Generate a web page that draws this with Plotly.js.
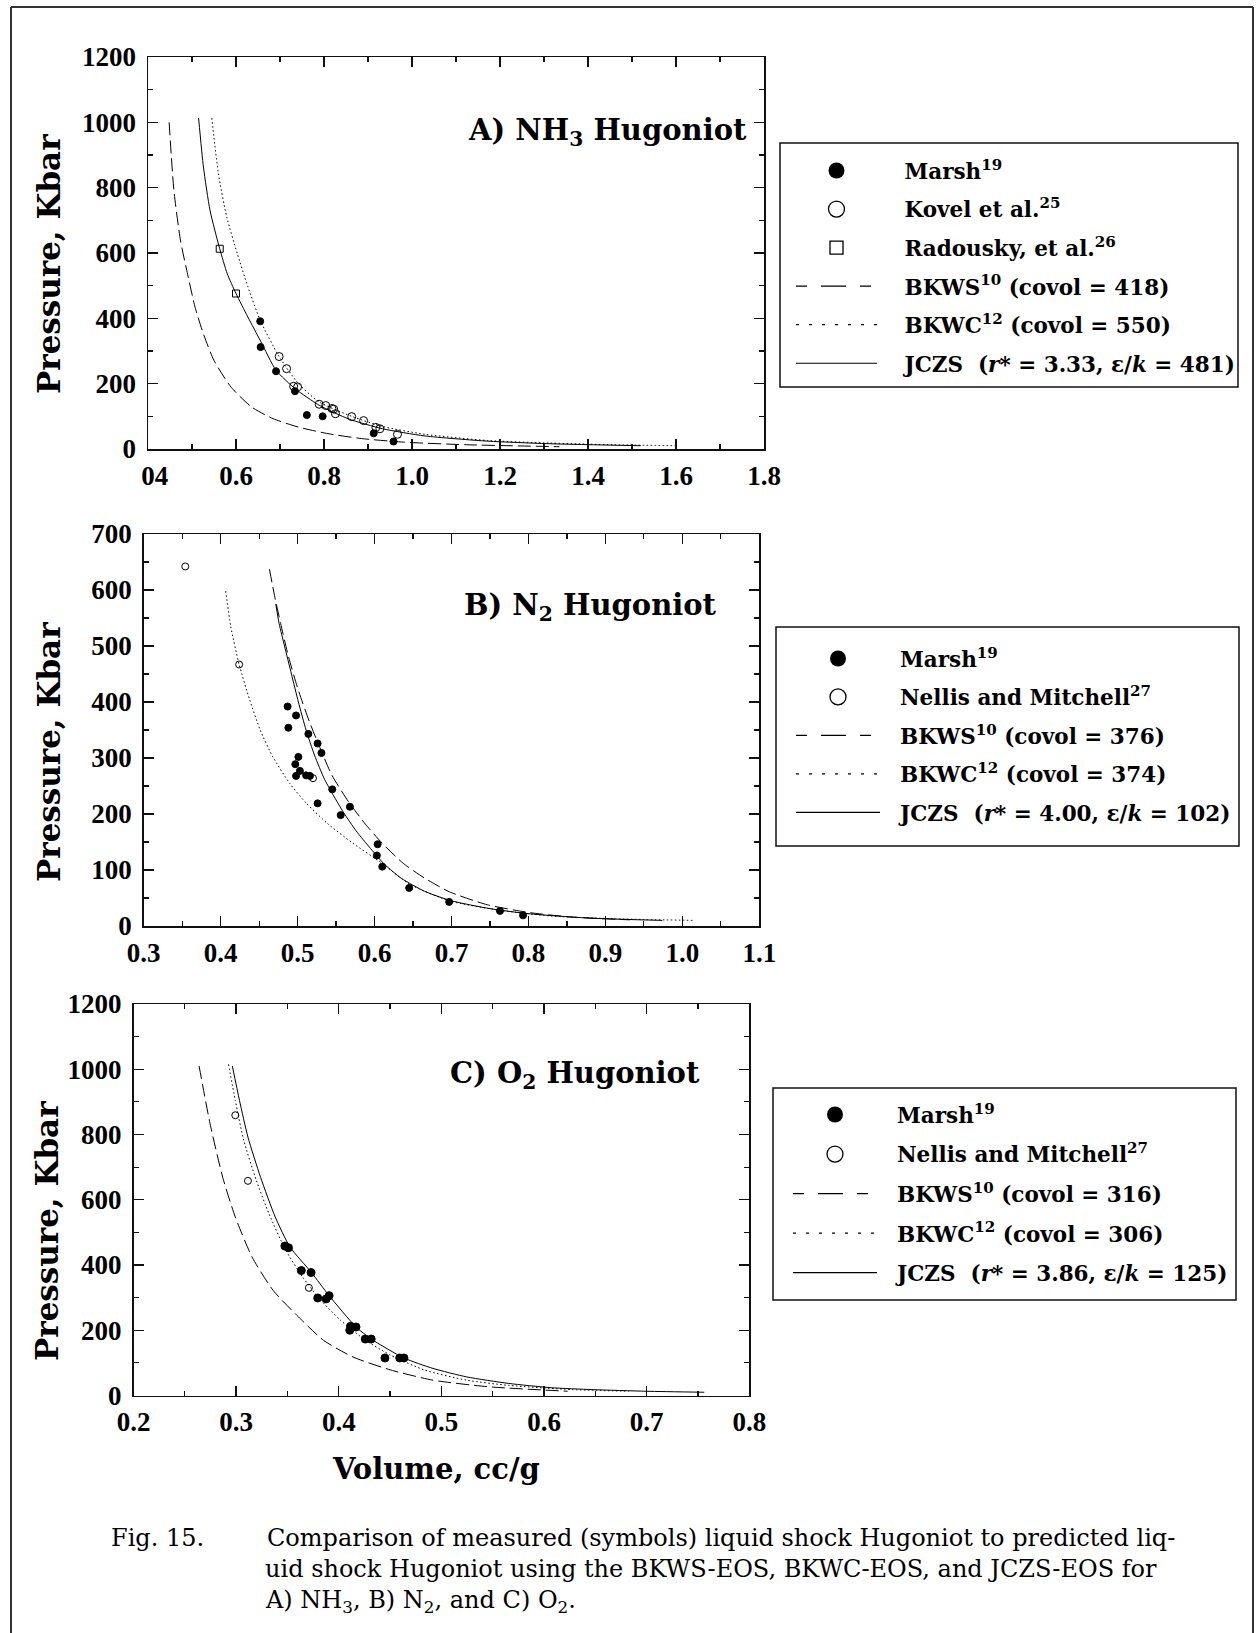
<!DOCTYPE html>
<html>
<head>
<meta charset="utf-8">
<script src="https://cdn.plot.ly/plotly-3.0.1.min.js"></script>
<style>
html,body{margin:0;padding:0;background:#fff;}
#chart{width:1257px;height:1633px;}
</style>
</head>
<body>
<div id="chart"></div>
<script>
// ---------- Panel A : NH3 ----------
const a_marsh_v = [0.655,0.656,0.691,0.734,0.761,0.797,0.913,0.958];
const a_marsh_p = [391,312,238,177,104,100,48,23];
const a_kovel_v = [0.698,0.715,0.731,0.740,0.789,0.804,0.818,0.822,0.826,0.863,0.890,0.918,0.927,0.967];
const a_kovel_p = [283,246,192,190,137,133,124,122,108,99,87,66,62,45];
const a_rad_v = [0.563,0.600];
const a_rad_p = [613,476];
const a_bkws_v = [0.448,0.459,0.474,0.490,0.507,0.526,0.550,0.589,0.636,0.684,0.742,0.809,0.885,0.981,1.124,1.335];
const a_bkws_p = [1000,790,637,535,434,352,271,189,128,93,67,47,32,21,13,7];
const a_bkwc_v = [0.545,0.560,0.579,0.603,0.627,0.655,0.698,0.742,0.789,0.863,0.933,1.029,1.172,1.316,1.459,1.600];
const a_bkwc_p = [1013,843,710,598,497,394,283,200,144,100,69,45,26,18,13,10];
const a_jczs_v = [0.515,0.526,0.541,0.563,0.580,0.600,0.627,0.656,0.691,0.734,0.789,0.856,0.933,1.029,1.172,1.316,1.520];
const a_jczs_p = [1013,863,730,613,537,476,404,330,241,185,134,92,62,40,24,16,10];

// ---------- Panel B : N2 ----------
const b_marsh_v = [0.487,0.488,0.498,0.514,0.526,0.531,0.501,0.497,0.503,0.498,0.511,0.516,0.545,0.526,0.568,0.556,0.604,0.603,0.610,0.645,0.697,0.763,0.793];
const b_marsh_p = [392,354,376,343,326,309,302,289,277,268,269,268,244,219,213,198,146,126,106,68,43,27,19];
const b_nellis_v = [0.354,0.424,0.520];
const b_nellis_p = [642,467,264];
const b_bkws_v = [0.4634,0.4700,0.4780,0.4880,0.5000,0.5150,0.5279,0.5443,0.5661,0.588,0.6098,0.6372,0.6645,0.6973,0.7464,0.8011,0.8557,0.932];
const b_bkws_p = [637,590,540,482,425,366,322,270,222,182,148,112,86,61,38,24,16,11];
const b_bkwc_v = [0.4066,0.4131,0.424,0.4377,0.4514,0.4678,0.4896,0.5115,0.5388,0.5716,0.6098,0.645,0.697,0.763,0.828,0.91,1.014];
const b_bkwc_p = [598,535,467,404,350,302,255,219,183,148,112,75,45,28,18,13,10];
const b_jczs_v = [0.4716,0.4760,0.4830,0.4920,0.5010,0.5110,0.5220,0.5350,0.5500,0.5600,0.5760,0.5950,0.6130,0.6350,0.6650,0.7000,0.7500,0.8000,0.8800,0.9740];
const b_jczs_p = [575,540,500,450,400,350,305,262,225,202,170,138,110,85,62,45,31,22,14,10];

// ---------- Panel C : O2 ----------
const c_marsh_v = [0.3475,0.351,0.3635,0.373,0.3795,0.3877,0.3906,0.4107,0.4115,0.4168,0.4258,0.4316,0.445,0.4594,0.4635];
const c_marsh_p = [458,453,383,377,299,296,306,200,212,210,173,173,115,115,115];
const c_nellis_v = [0.2992,0.3115,0.3709];
const c_nellis_p = [859,658,330];
const c_bkws_v = [0.2639,0.2746,0.2869,0.2992,0.3156,0.3361,0.3607,0.3852,0.4139,0.4508,0.4918,0.545,0.623];
const c_bkws_p = [1010,833,669,547,424,322,241,169,118,78,47,27,13];
const c_bkwc_v = [0.2926,0.2992,0.3074,0.3197,0.332,0.3484,0.3648,0.3811,0.4016,0.4262,0.4508,0.4836,0.5246,0.5656,0.627,0.6824];
const c_bkwc_p = [1015,904,782,659,557,445,363,297,231,169,123,78,47,31,18,13];
const c_jczs_v = [0.2963,0.3033,0.3115,0.3238,0.3381,0.3525,0.3734,0.3906,0.4168,0.4316,0.4635,0.4918,0.5246,0.5656,0.6066,0.6475,0.70,0.7561];
const c_jczs_p = [1010,904,792,669,547,455,377,306,210,173,115,83,57,37,24,18,13,10];

// ---------- tick labels ----------
const a_xticks = [0.4,0.6,0.8,1.0,1.2,1.4,1.6,1.8];
const a_xtext = ['&nbsp;&nbsp;04','0.6','0.8','1.0','1.2','1.4','1.6','1.8'];
const a_yticks = [0,200,400,600,800,1000,1200];
const b_xticks = [0.3,0.4,0.5,0.6,0.7,0.8,0.9,1.0,1.1];
const b_xtext = ['0.3','0.4','0.5','0.6','0.7','0.8','0.9','1.0','1.1'];
const b_yticks = [0,100,200,300,400,500,600,700];
const c_xticks = [0.2,0.3,0.4,0.5,0.6,0.7,0.8];
const c_xtext = ['0.2','0.3','0.4','0.5','0.6','0.7','0.8'];
const c_yticks = [0,200,400,600,800,1000,1200];

// ---------- legend labels ----------
const a_labels = ['Marsh<sup>19</sup>','Kovel et al.<sup>25</sup>','Radousky, et al.<sup>26</sup>',
  'BKWS<sup>10</sup> (covol = 418)','BKWC<sup>12</sup> (covol = 550)','JCZS&nbsp;&nbsp;(<i>r</i>* = 3.33, ε/<i>k</i> = 481)'];
const b_labels = ['Marsh<sup>19</sup>','Nellis and Mitchell<sup>27</sup>',
  'BKWS<sup>10</sup> (covol = 376)','BKWC<sup>12</sup> (covol = 374)','JCZS&nbsp;&nbsp;(<i>r</i>* = 4.00, ε/<i>k</i> = 102)'];
const c_labels = ['Marsh<sup>19</sup>','Nellis and Mitchell<sup>27</sup>',
  'BKWS<sup>10</sup> (covol = 316)','BKWC<sup>12</sup> (covol = 306)','JCZS&nbsp;&nbsp;(<i>r</i>* = 3.86, ε/<i>k</i> = 125)'];

// ---------- geometry ----------
const W = 1257, H = 1633;
const px = v => v / W;
const py = v => 1 - v / H;
const FONT = 'DejaVu Serif';
const TICKFONT = 'Liberation Serif';
const INK = '#111';

const DASH = '13px,5px';
const DOT = '1.5px,2.5px';
const LEG_DASH = '11px,14px,25px,14px';
const LEG_DOT = '3px,10px';

function axisBase(extra) {
  return Object.assign({
    showline: true, linecolor: INK, linewidth: 1.5, mirror: 'ticks',
    ticks: 'inside', ticklen: 10, tickwidth: 1.4, tickcolor: INK,
    showgrid: false, zeroline: false, fixedrange: true,
    tickfont: {family: TICKFONT, size: 27, color: '#000', weight: 'bold'},
    tickmode: 'array'
  }, extra);
}

const traces = [];
function lineTrace(v, p, dash, xa, ya) {
  traces.push({x: v, y: p, xaxis: xa, yaxis: ya, mode: 'lines', showlegend: false,
    line: {color: '#000', width: 1, dash: dash, shape: 'spline', smoothing: 0.6}, hoverinfo: 'skip'});
}
function markTrace(v, p, sym, size, xa, ya) {
  traces.push({x: v, y: p, xaxis: xa, yaxis: ya, mode: 'markers', showlegend: false,
    marker: {symbol: sym, size: size, color: '#000', line: {color: '#000', width: 1}}, hoverinfo: 'skip'});
}
function legendTrace(name, leg, kind, xa, ya, idx, pad) {
  const t = {x: [null], y: [null], xaxis: xa, yaxis: ya, name: pad + name, legend: leg,
    legendgroup: leg + '_' + idx, showlegend: true, hoverinfo: 'skip'};
  if (kind === 'filled') { t.mode = 'markers'; t.marker = {symbol: 'circle', size: 16, color: '#000'}; }
  else if (kind === 'open') { t.mode = 'markers'; t.marker = {symbol: 'circle-open', size: 16, color: '#000', line: {width: 1.3}}; }
  else if (kind === 'square') { t.mode = 'markers'; t.marker = {symbol: 'square-open', size: 13, color: '#000', line: {width: 1.3}}; }
  else if (kind === 'dash') { t.mode = 'lines'; t.line = {color: '#000', width: 1.2, dash: LEG_DASH}; }
  else if (kind === 'dot') { t.mode = 'lines'; t.line = {color: '#000', width: 1.2, dash: LEG_DOT}; }
  else { t.mode = 'lines'; t.line = {color: '#000', width: 1.2}; }
  traces.push(t);
}

// Panel A
lineTrace(a_bkws_v, a_bkws_p, DASH, 'x', 'y');
lineTrace(a_bkwc_v, a_bkwc_p, DOT, 'x', 'y');
lineTrace(a_jczs_v, a_jczs_p, 'solid', 'x', 'y');
markTrace(a_marsh_v, a_marsh_p, 'circle', 7, 'x', 'y');
markTrace(a_kovel_v, a_kovel_p, 'circle-open', 8, 'x', 'y');
markTrace(a_rad_v, a_rad_p, 'square-open', 7, 'x', 'y');
['filled','open','square','dash','dot','solid'].forEach((k, i) => legendTrace(a_labels[i], 'legend', k, 'x', 'y', i, '&nbsp;&nbsp;&nbsp;'));

// Panel B
lineTrace(b_bkws_v, b_bkws_p, DASH, 'x2', 'y2');
lineTrace(b_bkwc_v, b_bkwc_p, DOT, 'x2', 'y2');
lineTrace(b_jczs_v, b_jczs_p, 'solid', 'x2', 'y2');
markTrace(b_marsh_v, b_marsh_p, 'circle', 7, 'x2', 'y2');
markTrace(b_nellis_v, b_nellis_p, 'circle-open', 7, 'x2', 'y2');
['filled','open','dash','dot','solid'].forEach((k, i) => legendTrace(b_labels[i], 'legend2', k, 'x2', 'y2', i, '&nbsp;&nbsp;'));

// Panel C
lineTrace(c_bkws_v, c_bkws_p, DASH, 'x3', 'y3');
lineTrace(c_bkwc_v, c_bkwc_p, DOT, 'x3', 'y3');
lineTrace(c_jczs_v, c_jczs_p, 'solid', 'x3', 'y3');
markTrace(c_marsh_v, c_marsh_p, 'circle', 8, 'x3', 'y3');
markTrace(c_nellis_v, c_nellis_p, 'circle-open', 7, 'x3', 'y3');
['filled','open','dash','dot','solid'].forEach((k, i) => legendTrace(c_labels[i], 'legend3', k, 'x3', 'y3', i, '&nbsp;&nbsp;'));

function legendAt(x, y, gap, iw) {
  return {x: px(x), y: py(y), xanchor: 'left', yanchor: 'top', xref: 'paper', yref: 'paper',
    borderwidth: 0, bgcolor: 'rgba(0,0,0,0)',
    font: {family: FONT, size: 21.5, color: '#000', weight: 'bold'},
    itemwidth: iw, tracegroupgap: gap, traceorder: 'grouped', itemsizing: 'trace', itemclick: false, itemdoubleclick: false};
}

const titleFont = {family: FONT, size: 29, color: '#000', weight: 'bold'};
const yTitleFont = {family: FONT, size: 31, color: '#000', weight: 'bold'};
const capFont = {family: FONT, size: 24, color: '#000'};
const annotations = [
  {text: 'A) NH<sub>3</sub> Hugoniot', x: px(749), y: py(132), xanchor: 'right', yanchor: 'middle', font: titleFont},
  {text: 'B) N<sub>2</sub> Hugoniot', x: px(719), y: py(607), xanchor: 'right', yanchor: 'middle', font: titleFont},
  {text: 'C) O<sub>2</sub> Hugoniot', x: px(702), y: py(1075), xanchor: 'right', yanchor: 'middle', font: titleFont},
  {text: 'Pressure, Kbar', x: px(49), y: py(264), textangle: -90, xanchor: 'center', yanchor: 'middle', font: yTitleFont},
  {text: 'Pressure, Kbar', x: px(49), y: py(752), textangle: -90, xanchor: 'center', yanchor: 'middle', font: yTitleFont},
  {text: 'Pressure, Kbar', x: px(47), y: py(1231), textangle: -90, xanchor: 'center', yanchor: 'middle', font: yTitleFont},
  {text: 'Volume, cc/g', x: px(436), y: py(1469), xanchor: 'center', yanchor: 'middle', font: {family: FONT, size: 29, color: '#000', weight: 'bold'}},
  {text: 'Fig. 15.', x: px(109), y: py(1538), xanchor: 'left', yanchor: 'middle', font: capFont},
  {text: 'Comparison of measured (symbols) liquid shock Hugoniot to predicted liq-', x: px(265), y: py(1538), xanchor: 'left', yanchor: 'middle', font: capFont},
  {text: 'uid shock Hugoniot using the BKWS-EOS, BKWC-EOS, and JCZS-EOS for', x: px(263), y: py(1569), xanchor: 'left', yanchor: 'middle', font: capFont},
  {text: 'A) NH<sub>3</sub>, B) N<sub>2</sub>, and C) O<sub>2</sub>.', x: px(263), y: py(1601), xanchor: 'left', yanchor: 'middle', font: capFont}
].map(a => Object.assign({xref: 'paper', yref: 'paper', showarrow: false}, a));

function frameLine(x0, y0, x1, y1, w, c) {
  return {type: 'line', xref: 'paper', yref: 'paper', x0: px(x0), x1: px(x1), y0: py(y0), y1: py(y1), line: {color: c, width: w}};
}
function boxRect(x0, y0, x1, y1) {
  return {type: 'rect', xref: 'paper', yref: 'paper', x0: px(x0), x1: px(x1), y0: py(y1), y1: py(y0), line: {color: INK, width: 1.5}, fillcolor: 'rgba(0,0,0,0)', layer: 'below'};
}
const shapes = [
  frameLine(11, 7, 1253, 7, 2, '#333'),
  frameLine(11, 7, 11, 1640, 2, '#333'),
  frameLine(1253, 7, 1253, 1640, 2, '#333'),
  boxRect(780, 143, 1238, 387),
  boxRect(776, 627, 1239, 846),
  boxRect(773, 1088, 1236, 1300)
];

const minorBase = {ticks: 'inside', ticklen: 5, tickwidth: 1.2, tickcolor: INK, showgrid: false};
const layout = {
  width: W, height: H, margin: {l: 0, r: 0, t: 0, b: 0}, autosize: false,
  paper_bgcolor: '#fff', plot_bgcolor: 'rgba(0,0,0,0)', showlegend: true,
  font: {family: FONT, color: '#000'},
  xaxis: axisBase({domain: [px(148), px(764)], range: [0.4, 1.8], tickvals: a_xticks, ticktext: a_xtext, anchor: 'y', ticklabelstandoff: 2,
    minor: Object.assign({tick0: 0.4, dtick: 0.1}, minorBase)}),
  yaxis: axisBase({domain: [py(449), py(57)], range: [0, 1200], tickvals: a_yticks, ticktext: a_yticks.map(String), anchor: 'x', ticklabelstandoff: 5,
    minor: Object.assign({tick0: 0, dtick: 100}, minorBase)}),
  xaxis2: axisBase({domain: [px(143.7), px(759.3)], range: [0.3, 1.1], tickvals: b_xticks, ticktext: b_xtext, anchor: 'y2', ticklabelstandoff: 2,
    minor: Object.assign({tick0: 0.3, dtick: 0.05}, minorBase)}),
  yaxis2: axisBase({domain: [py(926), py(534)], range: [0, 700], tickvals: b_yticks, ticktext: b_yticks.map(String), anchor: 'x2', ticklabelstandoff: 5,
    minor: Object.assign({tick0: 0, dtick: 50}, minorBase)}),
  xaxis3: axisBase({domain: [px(133.5), px(749.3)], range: [0.2, 0.8], tickvals: c_xticks, ticktext: c_xtext, anchor: 'y3', ticklabelstandoff: 2,
    minor: Object.assign({tick0: 0.2, dtick: 0.05}, minorBase)}),
  yaxis3: axisBase({domain: [py(1395.5), py(1004)], range: [0, 1200], tickvals: c_yticks, ticktext: c_yticks.map(String), anchor: 'x3', ticklabelstandoff: 5,
    minor: Object.assign({tick0: 0, dtick: 100}, minorBase)}),
  legend: legendAt(791, 150, 7.6, 81),
  legend2: legendAt(791, 638, 7.5, 84),
  legend3: legendAt(788, 1094, 8.6, 84),
  annotations: annotations,
  shapes: shapes
};

Plotly.newPlot('chart', traces, layout, {staticPlot: true, displayModeBar: false});
</script>
</body>
</html>
